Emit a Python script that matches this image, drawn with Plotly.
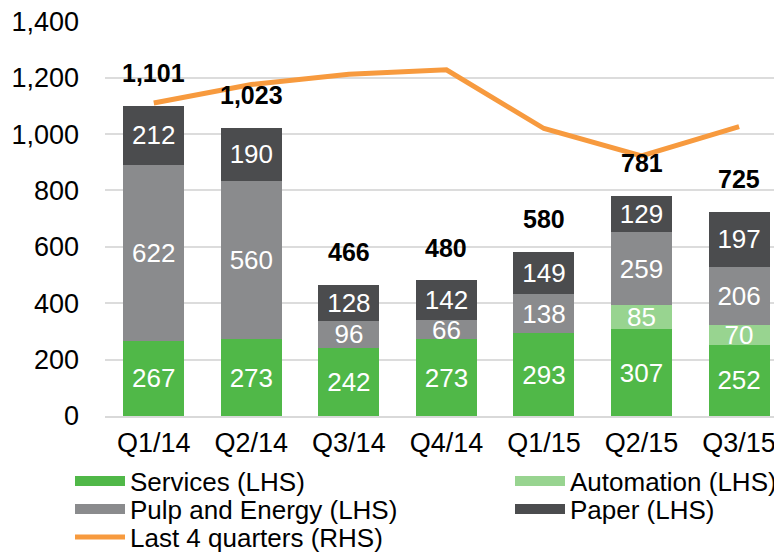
import plotly.graph_objects as go

quarters = ["Q1/14", "Q2/14", "Q3/14", "Q4/14", "Q1/15", "Q2/15", "Q3/15"]
services = [267, 273, 242, 273, 293, 307, 252]
automation = [0, 0, 0, 0, 0, 85, 70]
pulp_energy = [622, 560, 96, 66, 138, 259, 206]
paper = [212, 190, 128, 142, 149, 129, 197]
totals = [1101, 1023, 466, 480, 580, 781, 725]
last4q = [2775, 2940, 3030, 3070, 2549, 2307, 2566]

FONT = "Liberation Sans, Arial, sans-serif"
FS = 26

series = [
    ("Services (LHS)", services, "#50B848", "legend"),
    ("Automation (LHS)", automation, "#98D490", "legend2"),
    ("Pulp and Energy (LHS)", pulp_energy, "#8A8B8D", "legend3"),
    ("Paper (LHS)", paper, "#4B4C4E", "legend4"),
]

fig = go.Figure()
for name, vals, col, lg in series:
    fig.add_trace(go.Bar(
        x=quarters, y=vals, name=name, marker_color=col,
        marker_line_width=0,
        text=[str(v) if v > 0 else "" for v in vals],
        textposition="inside", insidetextanchor="middle",
        textangle=0, constraintext="none",
        textfont=dict(color="white", size=FS, family=FONT),
        showlegend=False, hoverinfo="skip",
    ))
    # legend swatch drawn as a wide block (legend-only entry)
    fig.add_trace(go.Scatter(
        x=[None], y=[None], name=name, mode="lines",
        line=dict(color=col, width=14), legend=lg, hoverinfo="skip",
    ))

fig.add_trace(go.Scatter(
    x=quarters, y=last4q, name="Last 4 quarters (RHS)", mode="lines",
    line=dict(color="#F79A3E", width=5), yaxis="y2", legend="legend5",
))

for q, t in zip(quarters, totals):
    fig.add_annotation(x=q, y=t, text=f"<b>{t:,}</b>", showarrow=False,
                       yanchor="middle", yshift=33,
                       font=dict(size=25, color="black", family=FONT))

leg_common = dict(font=dict(size=FS, family=FONT, color="black"),
                  bgcolor="rgba(0,0,0,0)", xanchor="left", yanchor="middle",
                  orientation="v", itemwidth=50)

# page body has an 8px margin; the figure is sized/offset to compensate
W, H = 774, 545
PLOT_L, PLOT_R, PLOT_T, PLOT_B = 105, 782, 21, 416  # page pixels
def lx(px):
    return (px - PLOT_L) / (PLOT_R - PLOT_L)
def ly(py):
    return (PLOT_B - py) / (PLOT_B - PLOT_T)

fig.update_layout(
    width=W, height=H,
    margin=dict(l=PLOT_L - 8, r=0, t=PLOT_T - 8, b=(H + 8) - PLOT_B, autoexpand=False),
    paper_bgcolor="white", plot_bgcolor="white",
    barmode="stack", bargap=0.375,
    font=dict(family=FONT, size=FS, color="black"),
    xaxis=dict(range=[-0.5, 6.44], showgrid=False, showline=True,
               linecolor="#D9D9D9", linewidth=2, ticks="",
               tickfont=dict(size=27, family=FONT), ticklabelstandoff=2),
    yaxis=dict(range=[0, 1401], tickvals=[0, 200, 400, 600, 800, 1000, 1200, 1400],
               tickformat=",", showgrid=True, ticklabeloverflow="allow",
               gridcolor="#DCDCDC", gridwidth=2, zeroline=False,
               tickfont=dict(size=27, family=FONT), ticklabelstandoff=25),
    yaxis2=dict(range=[0, 3502.5], overlaying="y", side="right", visible=False),
    legend=dict(x=lx(70), y=ly(481), **leg_common),
    legend2=dict(x=lx(510), y=ly(481), **leg_common),
    legend3=dict(x=lx(70), y=ly(509), **leg_common),
    legend4=dict(x=lx(510), y=ly(509), **leg_common),
    legend5=dict(x=lx(70), y=ly(537), **leg_common),
    showlegend=True,
)

fig.write_html("out.html")
